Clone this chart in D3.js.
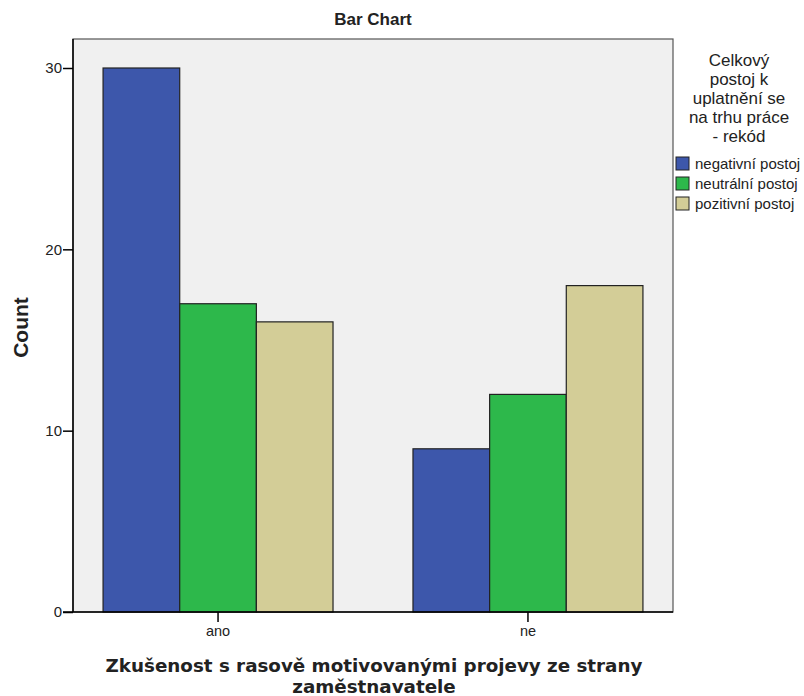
<!DOCTYPE html>
<html lang="en">
<head>
    <meta charset="UTF-8">
    <title>Bar Chart</title>
    <script src="https://d3js.org/d3.v7.min.js"></script>
    <style>
        body { margin: 0; background: #fff; }
        text { fill: #222; }
    </style>
</head>
<body>
    <div id="chart"></div>
    <script>
        const groups = ["ano", "ne"];
        const series = ["negativní postoj", "neutrální postoj", "pozitivní postoj"];
        const colors = ["#3d57ab", "#2db84b", "#d3cd97"];
        const negativni = [30, 9];
        const neutralni = [17, 12];
        const pozitivni = [16, 18];
        const yTicks = [0, 10, 20, 30];
        const legendTitle = ["Celkový", "postoj k", "uplatnění se", "na trhu práce", "- rekód"];
        const xTitle = ["Zkušenost s rasově motivovanými projevy ze strany", "zaměstnavatele"];

        const values = [negativni, neutralni, pozitivni];
        const data = groups.map((g, i) => ({ group: g, vals: series.map((s, j) => ({ key: s, value: values[j][i] })) }));

        const W = 804, H = 696;
        const plot = { left: 73, right: 673, top: 39, bottom: 612 };

        const svg = d3.select("#chart").append("svg")
            .attr("width", W)
            .attr("height", H);

        const x = d3.scaleBand().domain(groups)
            .range([plot.left, plot.right])
            .paddingInner(0.258)
            .paddingOuter(0.097);
        const xs = d3.scaleBand().domain(series).range([0, x.bandwidth()]);
        const y = d3.scaleLinear().domain([0, 30]).range([plot.bottom, 68]);
        const color = d3.scaleOrdinal().domain(series).range(colors);

        // plot background
        svg.append("rect")
            .attr("x", plot.left).attr("y", plot.top)
            .attr("width", plot.right - plot.left)
            .attr("height", plot.bottom - plot.top)
            .attr("fill", "#f0f0f0")
            .attr("stroke", "#555")
            .attr("stroke-width", 1.2);

        svg.append("g").selectAll("g")
            .data(data)
            .join("g")
            .attr("transform", d => `translate(${x(d.group)},0)`)
            .selectAll("rect")
            .data(d => d.vals)
            .join("rect")
            .attr("x", d => xs(d.key))
            .attr("y", d => y(d.value))
            .attr("width", xs.bandwidth())
            .attr("height", d => y(0) - y(d.value))
            .attr("fill", d => color(d.key))
            .attr("stroke", "#222")
            .attr("stroke-width", 1.2);

        const yAxis = svg.append("g")
            .attr("transform", `translate(${plot.left},0)`)
            .call(d3.axisLeft(y).tickValues(yTicks).tickSize(10).tickPadding(1).tickSizeOuter(0));
        yAxis.select(".domain").attr("stroke", "#000").attr("stroke-width", 1.5)
            .attr("d", `M0,${plot.top}V${plot.bottom}`);
        yAxis.selectAll(".tick line").attr("stroke", "#000").attr("stroke-width", 1.5);
        yAxis.selectAll("text").style("font", "15px 'Liberation Sans', Arial, sans-serif").attr("fill", "#222");

        const xAxis = svg.append("g")
            .attr("transform", `translate(0,${plot.bottom})`)
            .call(d3.axisBottom(x).tickSize(10).tickPadding(4).tickSizeOuter(0));
        xAxis.select(".domain").attr("stroke", "#000").attr("stroke-width", 1.5)
            .attr("d", `M${plot.left - 10},0H${plot.right}`);
        xAxis.selectAll(".tick line").attr("stroke", "#000").attr("stroke-width", 1.5);
        xAxis.selectAll("text").style("font", "14.5px 'Liberation Sans', Arial, sans-serif").attr("fill", "#222");

        svg.append("text")
            .attr("x", 373).attr("y", 25)
            .attr("text-anchor", "middle")
            .style("font", "bold 17px 'Liberation Sans', Arial, sans-serif")
            .text("Bar Chart");

        svg.append("text")
            .attr("transform", `translate(28,${(plot.top + plot.bottom) / 2 + 2}) rotate(-90)`)
            .attr("text-anchor", "middle")
            .style("font", "bold 21px 'Liberation Sans', Arial, sans-serif")
            .text("Count");

        svg.append("text")
            .attr("text-anchor", "middle")
            .style("font", "bold 18.3px 'DejaVu Sans', Verdana, sans-serif")
            .selectAll("tspan")
            .data(xTitle)
            .join("tspan")
            .attr("x", 374)
            .attr("y", (d, i) => 672 + i * 21)
            .text(d => d);

        // legend
        const legend = svg.append("g");
        legend.append("text")
            .attr("text-anchor", "middle")
            .style("font", "17px 'Liberation Sans', Arial, sans-serif")
            .attr("fill", "#333")
            .selectAll("tspan")
            .data(legendTitle)
            .join("tspan")
            .attr("x", 739)
            .attr("y", (d, i) => 66 + i * 19)
            .text(d => d);

        const items = legend.selectAll("g.item")
            .data(series)
            .join("g")
            .attr("class", "item")
            .attr("transform", (d, i) => `translate(676,${157 + i * 20})`);
        items.append("rect")
            .attr("width", 13).attr("height", 13)
            .attr("fill", d => color(d))
            .attr("stroke", "#222");
        items.append("text")
            .attr("x", 19).attr("y", 12)
            .style("font", "15px 'Liberation Sans', Arial, sans-serif")
            .text(d => d);
    </script>
</body>
</html>
